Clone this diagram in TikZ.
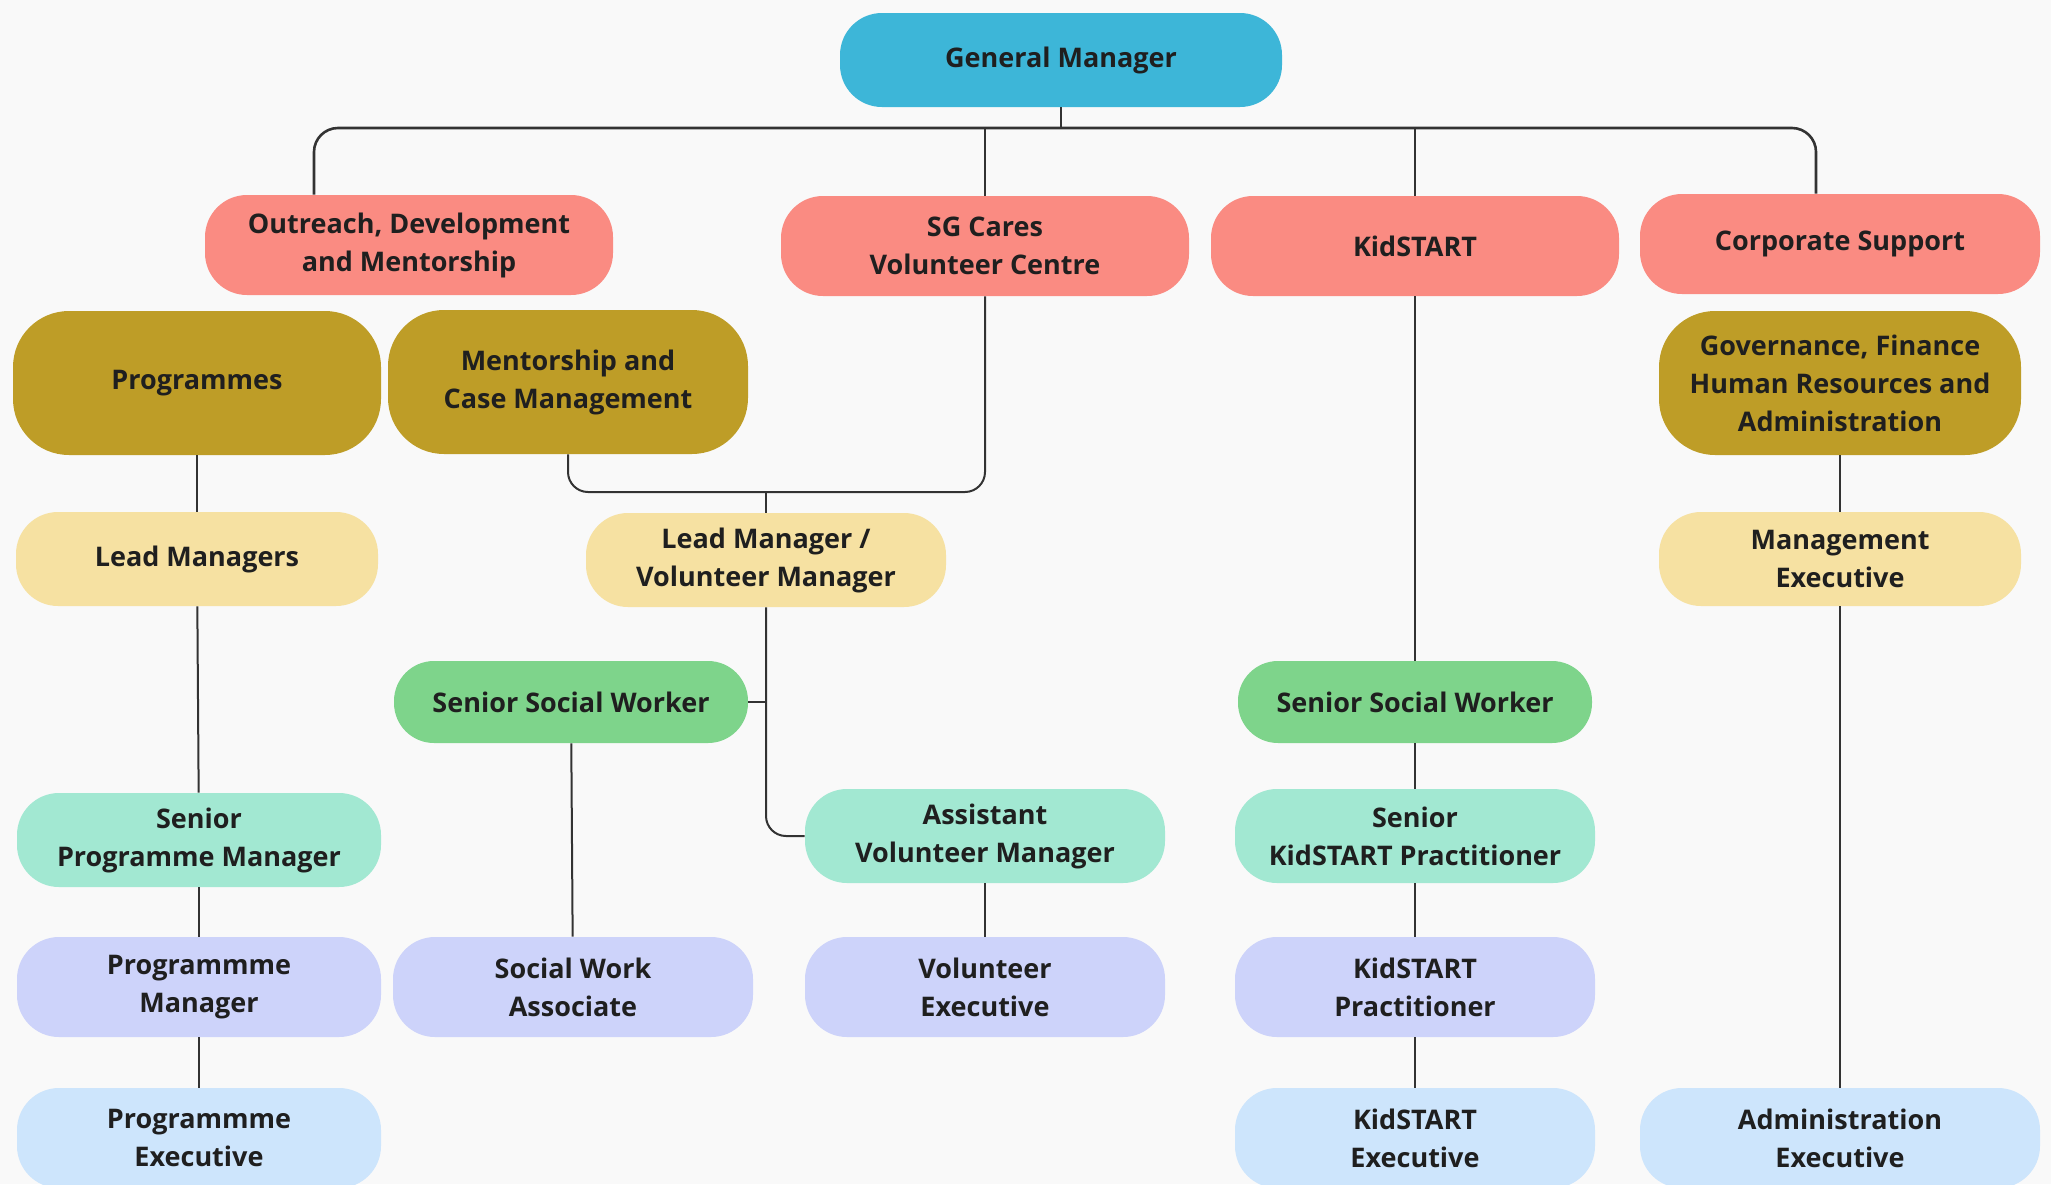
\documentclass[tikz,border=0pt]{standalone}
\usepackage{fontspec}
\setmainfont{Open Sans}
\usepackage{xcolor}
\usepackage{tikz}
\usetikzlibrary{positioning, calc}
\definecolor{gmcol}{HTML}{3DB6D8}
\definecolor{deptcol}{HTML}{FA8B82}
\definecolor{unitcol}{HTML}{BE9D27}
\definecolor{leadcol}{HTML}{F6E1A2}
\definecolor{sswcol}{HTML}{7ED48B}
\definecolor{seniorcol}{HTML}{A2E8D2}
\definecolor{staffcol}{HTML}{CDD3FA}
\definecolor{execcol}{HTML}{CDE5FC}
\definecolor{bgcol}{HTML}{F9F9F9}
\definecolor{linecol}{HTML}{333333}

\begin{document}
\begin{tikzpicture}[
    x=0.5pt, y=-0.5pt,
    role/.style={rectangle, rounded corners=21pt, draw=none, align=center, inner sep=0pt,
                 minimum width=180pt, minimum height=50pt, text=black!88,
                 font=\fontsize{13.5}{19}\selectfont\bfseries},
    dept/.style={role, fill=deptcol, minimum width=204pt},
    unit/.style={role, fill=unitcol, rounded corners=28pt, minimum height=72pt},
    lead/.style={role, fill=leadcol, minimum height=47pt},
    ssw/.style={role, fill=sswcol, minimum height=41pt, rounded corners=20pt},
    senior/.style={role, fill=seniorcol, minimum height=47pt},
    staff/.style={role, fill=staffcol},
    exec/.style={role, fill=execcol},
    link/.style={draw=linecol, line width=1pt}
]
    \fill[bgcol] (0,0) rectangle (2051,1184);
    \useasboundingbox (0,0) rectangle (2051,1184);

    \node[role, fill=gmcol, minimum width=221pt, minimum height=47pt] (gm) at (1061,60) {General Manager};

    \node[dept] (odm)  at (409,245)  {Outreach, Development\\and Mentorship};
    \node[dept] (sgc)  at (985,246)  {SG Cares\\Volunteer Centre};
    \node[dept] (kid)  at (1415,246) {KidSTART};
    \node[dept, minimum width=200pt] (corp) at (1840,244) {Corporate Support};

    \node[unit, minimum width=184pt] (prog) at (197,383)  {Programmes};
    \node[unit] (mcm)  at (568,382)  {Mentorship and\\Case Management};
    \node[unit, minimum width=181pt] (gov)  at (1840,383) {Governance, Finance\\Human Resources and\\Administration};

    \node[lead, minimum width=181pt] (lms)  at (197,559)  {Lead Managers};
    \node[lead] (lmvm) at (766,560)  {Lead Manager /\\Volunteer Manager};
    \node[lead, minimum width=181pt] (mex)  at (1840,559) {Management\\Executive};

    \node[ssw, minimum width=177pt] (ssw1) at (571,702)  {Senior Social Worker};
    \node[ssw, minimum width=177pt] (ssw2) at (1415,702) {Senior Social Worker};

    \node[senior, minimum width=182pt] (spm) at (199,840)  {Senior\\Programme Manager};
    \node[senior] (avm) at (985,836)  {Assistant\\Volunteer Manager};
    \node[senior] (skp) at (1415,836) {Senior\\KidSTART Practitioner};

    \node[staff, minimum width=182pt] (pm)  at (199,987)  {Programmme\\Manager};
    \node[staff] (swa) at (573,987)  {Social Work\\Associate};
    \node[staff] (ve)  at (985,987)  {Volunteer\\Executive};
    \node[staff] (kp)  at (1415,987) {KidSTART\\Practitioner};

    \node[exec, minimum width=182pt] (pe) at (199,1138)  {Programmme\\Executive};
    \node[exec] (ke) at (1415,1138) {KidSTART\\Executive};
    \node[exec, minimum width=200pt] (ae) at (1840,1138) {Administration\\Executive};

    \coordinate (busL) at (314,128);
    \coordinate (busR) at (1816,128);
    \coordinate (jn) at (766,492);

    \draw[link, line width=1.3pt, rounded corners=12pt] (odm.north -| busL) -- (busL) -- (busR) -- (corp.north -| busR);
    \draw[link] (gm.south) -- (gm.south |- busL);
    \draw[link] (sgc.north) -- (sgc.north |- busL);
    \draw[link] (kid.north) -- (kid.north |- busL);

    \draw[link] (prog) -- (lms);
    \draw[link] (lms) -- (spm);
    \draw[link] (spm) -- (pm);
    \draw[link] (pm) -- (pe);

    \draw[link, rounded corners=10pt] (mcm.south) |- (jn) -| (sgc.south);
    \draw[link] (jn) -- (lmvm.north);
    \draw[link, rounded corners=10pt] (lmvm.south) |- (avm.west);
    \draw[link] (ssw1.east) -- (ssw1.east -| lmvm.south);
    \draw[link] (ssw1) -- (swa);
    \draw[link] (avm) -- (ve);

    \draw[link] (kid) -- (ssw2);
    \draw[link] (ssw2) -- (skp);
    \draw[link] (skp) -- (kp);
    \draw[link] (kp) -- (ke);

    \draw[link] (gov) -- (mex);
    \draw[link] (mex) -- (ae);
\end{tikzpicture}
\end{document}
